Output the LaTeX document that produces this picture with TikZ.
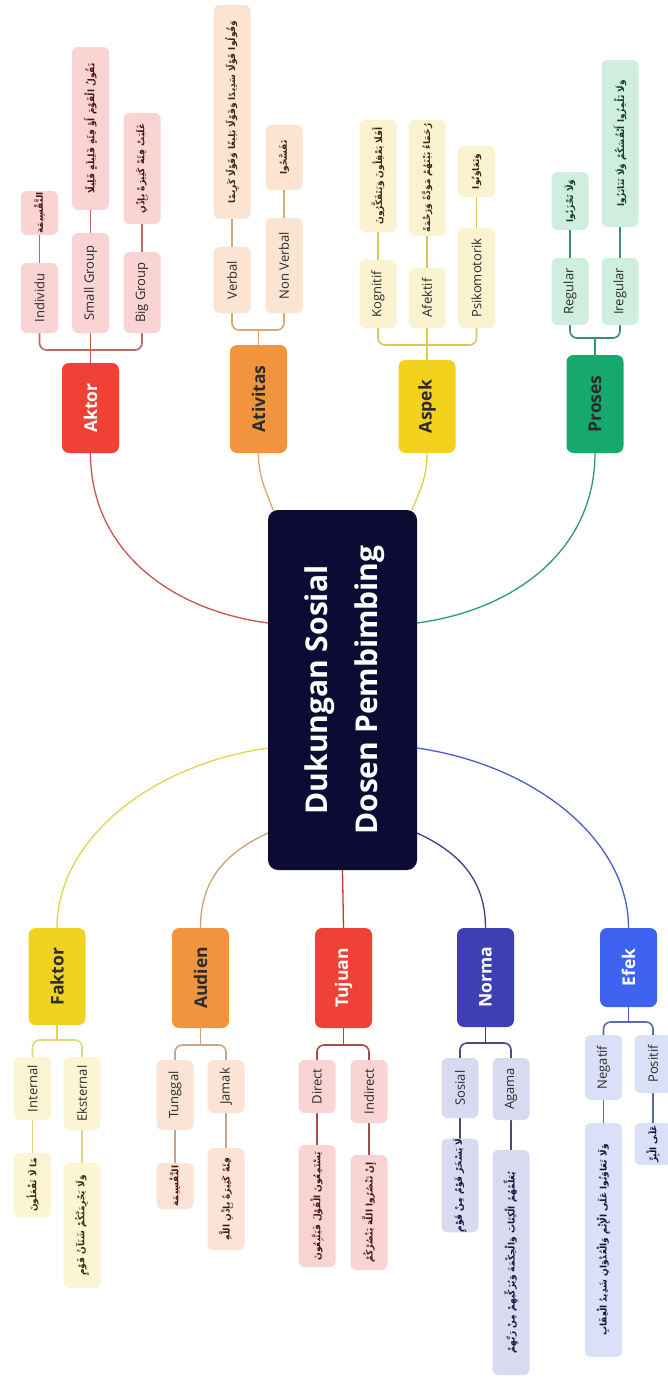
\documentclass[tikz,border=0pt]{standalone}
\usepackage{fontspec}
\usepackage{graphicx}
\setmainfont{Open Sans}
\newfontfamily\arabicfont[Script=Arabic]{DejaVu Sans}
\TeXXeTstate=1
\newcommand\rottxt[1]{\rotatebox{90}{#1}}
\newcommand\rotar[1]{\rotatebox{90}{\arabicfont\bfseries\beginR #1\endR}}
\definecolor{rootc}{HTML}{0B0B33}
\definecolor{aktorc}{HTML}{EF4136}
\definecolor{ativc}{HTML}{F0953E}
\definecolor{aspekc}{HTML}{F2D21C}
\definecolor{prosesc}{HTML}{16A86C}
\definecolor{faktorc}{HTML}{F0D320}
\definecolor{audienc}{HTML}{F0953E}
\definecolor{tujuanc}{HTML}{EF4136}
\definecolor{normac}{HTML}{3E3FB3}
\definecolor{efekc}{HTML}{3D63F0}
\definecolor{aksub}{HTML}{F9D4D2}
\definecolor{atsub}{HTML}{FBE4D2}
\definecolor{assub}{HTML}{FBF3CF}
\definecolor{prsub}{HTML}{CFEEE0}
\definecolor{fasub}{HTML}{FBF5D3}
\definecolor{ausub}{HTML}{FBE4D6}
\definecolor{tusub}{HTML}{F9D4D2}
\definecolor{nosub}{HTML}{D9D9F0}
\definecolor{efsub}{HTML}{D9E0F8}
\definecolor{akline}{HTML}{C85550}
\definecolor{atline}{HTML}{E0A66A}
\definecolor{asline}{HTML}{E6CC45}
\definecolor{prline}{HTML}{2A9C70}
\definecolor{faline}{HTML}{E3D547}
\definecolor{auline}{HTML}{C9A275}
\definecolor{tuline}{HTML}{BE3F3A}
\definecolor{noline}{HTML}{3C3C8E}
\definecolor{efline}{HTML}{4C5EC8}
\definecolor{akbrk}{HTML}{B86A68}
\definecolor{atbrk}{HTML}{D9A77A}
\definecolor{asbrk}{HTML}{DCC75A}
\definecolor{prbrk}{HTML}{3A8C72}
\definecolor{fabrk}{HTML}{E0D67A}
\definecolor{aubrk}{HTML}{C9A58A}
\definecolor{tubrk}{HTML}{A94B48}
\definecolor{nobrk}{HTML}{4B4B82}
\definecolor{efbrk}{HTML}{5B6AA8}
\definecolor{txtc}{HTML}{2B2B2B}
\definecolor{redar}{HTML}{4A1414}
\definecolor{brar}{HTML}{3A2810}
\definecolor{grar}{HTML}{143A2A}
\definecolor{blar}{HTML}{14143A}
\pgfdeclarelayer{bg}
\pgfsetlayers{bg,main}
\tikzset{
  base/.style={draw=none, inner sep=0pt, outer sep=0pt},
  rootbox/.style={base, fill=rootc, rounded corners=10pt, minimum width=149pt, minimum height=360pt, text=white, font=\fontsize{30}{50}\selectfont\bfseries},
  mainbox/.style={base, rounded corners=7pt, minimum width=57pt, font=\fontsize{17.5}{20}\selectfont\bfseries},
  subbox/.style={base, rounded corners=6pt, minimum width=37pt, text=txtc, font=\fontsize{13}{15}\selectfont},
  arbox/.style={subbox, font=\fontsize{9}{12}\selectfont},
  curve/.style={line width=1.3pt},
  brk/.style={line width=1.6pt, rounded corners=7pt},
  lnk/.style={line width=1.5pt}
}
\begin{document}
\begin{tikzpicture}[x=1pt,y=-1pt]
\useasboundingbox (0,0) rectangle (667,1380);

% root
\node[rootbox] (root) at (342.5,690) {\rotatebox{90}{\begin{tabular}{@{}c@{}}Dukungan Sosial\\Dosen Pembimbing\end{tabular}}};

% main nodes (top)
\node[mainbox, fill=aktorc, text=white, minimum height=90pt] (aktor) at (90.5,408) {\rottxt{Aktor}};
\node[mainbox, fill=ativc, text=txtc, minimum height=108pt] (ativ) at (258.5,399) {\rottxt{Ativitas}};
\node[mainbox, fill=aspekc, text=txtc, minimum height=93pt] (aspek) at (427,406.5) {\rottxt{Aspek}};
\node[mainbox, fill=prosesc, text=txtc, minimum height=98pt] (proses) at (595,404) {\rottxt{Proses}};
% main nodes (bottom)
\node[mainbox, fill=faktorc, text=txtc, minimum height=97pt] (faktor) at (57,976.5) {\rottxt{Faktor}};
\node[mainbox, fill=audienc, text=txtc, minimum height=100pt] (audien) at (200.5,978) {\rottxt{Audien}};
\node[mainbox, fill=tujuanc, text=white, minimum height=100pt] (tujuan) at (343.5,978) {\rottxt{Tujuan}};
\node[mainbox, fill=normac, text=white, minimum height=99pt] (norma) at (485.5,977.5) {\rottxt{Norma}};
\node[mainbox, fill=efekc, text=white, minimum height=79pt] (efek) at (628.5,967.5) {\rottxt{Efek}};

% Aktor subnodes
\node[subbox, fill=aksub, minimum height=70pt] (ind) at (39.5,298) {\rottxt{Individu}};
\node[subbox, fill=aksub, minimum height=100pt] (small) at (90.5,283) {\rottxt{Small Group}};
\node[subbox, fill=aksub, minimum height=81pt] (big) at (142,292.5) {\rottxt{Big Group}};
\node[arbox, fill=aksub, text=redar, minimum height=44pt] (indc) at (39.5,213) {\rotar{التَّقْسِيمَة}};
\node[arbox, fill=aksub, text=redar, minimum height=163pt] (smallc) at (90.5,128.5) {\rotar{نَقُولُ الْقَوْمَ أَوْ فِئَةٍ قَلِيلَةٍ قَلِيلًا}};
\node[arbox, fill=aksub, text=redar, minimum height=111pt] (bigc) at (142,168.5) {\rotar{غَلَبَتْ فِئَةً كَثِيرَةً بِإِذْنِ}};

% Ativitas subnodes
\node[subbox, fill=atsub, minimum height=66pt] (verbal) at (232,280) {\rottxt{Verbal}};
\node[subbox, fill=atsub, minimum height=95pt] (nonverbal) at (284,265.5) {\rottxt{Non Verbal}};
\node[arbox, fill=atsub, text=brar, minimum height=214pt] (verbalc) at (232,112) {\rotar{وَقُولُوا قَوْلًا سَدِيدًا وَقَوْلًا بَلِيغًا وَقَوْلًا كَرِيمًا}};
\node[arbox, fill=atsub, text=brar, minimum height=65pt] (nonverbalc) at (284,157.5) {\rotar{تَفَسَّحُوا}};

% Aspek subnodes
\node[subbox, fill=assub, minimum height=68pt] (kog) at (378,294) {\rottxt{Kognitif}};
\node[subbox, fill=assub, minimum height=60pt] (afek) at (427,298) {\rottxt{Afektif}};
\node[subbox, fill=assub, minimum height=100pt] (psiko) at (476.5,278) {\rottxt{Psikomotorik}};
\node[arbox, fill=assub, text=brar, minimum height=112pt] (kogc) at (378,176) {\rotar{أَفَلَا يَعْقِلُونَ وَيَتَفَكَّرُونَ}};
\node[arbox, fill=assub, text=brar, minimum height=116pt] (afekc) at (427,178) {\rotar{رُحَمَاءُ بَيْنَهُمْ مَوَدَّةً وَرَحْمَةً}};
\node[arbox, fill=assub, text=brar, minimum height=51pt] (psikoc) at (476.5,171.5) {\rotar{وَتَعَاوَنُوا}};

% Proses subnodes
\node[subbox, fill=prsub, minimum height=67pt] (regular) at (570,291.5) {\rottxt{Regular}};
\node[subbox, fill=prsub, minimum height=67pt] (iregular) at (620,291.5) {\rottxt{Iregular}};
\node[arbox, fill=prsub, text=grar, minimum height=58pt] (regularc) at (570,201) {\rotar{وَلَا تَحْزَنُوا}};
\node[arbox, fill=prsub, text=grar, minimum height=167pt] (iregularc) at (620,143.5) {\rotar{وَلَا تَلْمِزُوا أَنْفُسَكُمْ وَلَا تَنَابَزُوا}};

% Faktor subnodes
\node[subbox, fill=fasub, minimum height=63pt] (internal) at (32.5,1088.5) {\rottxt{Internal}};
\node[subbox, fill=fasub, minimum height=73pt] (eksternal) at (82,1093.5) {\rottxt{Eksternal}};
\node[arbox, fill=fasub, text=brar, minimum height=64pt] (internalc) at (32.5,1185) {\rotar{مَا لَا تَفْعَلُونَ}};
\node[arbox, fill=fasub, text=brar, minimum height=125pt] (eksternalc) at (82,1225.5) {\rotar{وَلَا يَجْرِمَنَّكُمْ شَنَآنُ قَوْمٍ}};

% Audien subnodes
\node[subbox, fill=ausub, minimum height=70pt] (tunggal) at (175,1095) {\rottxt{Tunggal}};
\node[subbox, fill=ausub, minimum height=53pt] (jamak) at (226,1086.5) {\rottxt{Jamak}};
\node[arbox, fill=ausub, text=redar, minimum height=46pt] (tunggalc) at (175,1186) {\rotar{التَّقْسِيمَة}};
\node[arbox, fill=ausub, text=redar, minimum height=102pt] (jamakc) at (226,1199) {\rotar{فِئَةً كَثِيرَةً بِإِذْنِ اللَّهِ}};

% Tujuan subnodes
\node[subbox, fill=tusub, minimum height=53pt] (direct) at (317,1086.5) {\rottxt{Direct}};
\node[subbox, fill=tusub, minimum height=63pt] (indirect) at (369,1091.5) {\rottxt{Indirect}};
\node[arbox, fill=tusub, text=redar, minimum height=122pt] (directc) at (317,1206) {\rotar{يَسْتَمِعُونَ الْقَوْلَ فَيَتَّبِعُونَ}};
\node[arbox, fill=tusub, text=redar, minimum height=115pt] (indirectc) at (369,1212.5) {\rotar{إِنْ تَنْصُرُوا اللَّهَ يَنْصُرْكُمْ}};

% Norma subnodes
\node[subbox, fill=nosub, minimum height=60pt] (sosial) at (460,1088) {\rottxt{Sosial}};
\node[subbox, fill=nosub, minimum height=62pt] (agama) at (511,1089) {\rottxt{Agama}};
\node[arbox, fill=nosub, text=blar, minimum height=85pt] (sosialc) at (460,1185.5) {\rotar{لَا يَسْخَرْ قَوْمٌ مِنْ قَوْمٍ}};
\node[arbox, fill=nosub, text=blar, minimum height=225pt] (agamac) at (511,1262.5) {\rotar{يُعَلِّمُهُمُ الْكِتَابَ وَالْحِكْمَةَ وَيُزَكِّيهِمْ مِنْ رَبِّهِمْ}};

% Efek subnodes
\node[subbox, fill=efsub, minimum height=65pt] (negatif) at (603.5,1067.5) {\rottxt{Negatif}};
\node[subbox, fill=efsub, minimum height=58pt] (positif) at (653,1064) {\rottxt{Positif}};
\node[arbox, fill=efsub, text=blar, minimum height=234pt] (negatifc) at (603.5,1240) {\rotar{وَلَا تَعَاوَنُوا عَلَى الْإِثْمِ وَالْعُدْوَانِ شَدِيدُ الْعِقَابِ}};
\node[arbox, fill=efsub, text=blar, minimum height=42pt] (positifc) at (653,1144) {\rotar{عَلَى الْبِرِّ}};

% bracket coordinates
\coordinate (akb) at (90.5,350);
\coordinate (atb) at (258.5,330);
\coordinate (asb) at (427,345);
\coordinate (prb) at (595,338);
\coordinate (fab) at (57,1040);
\coordinate (aub) at (200.5,1045);
\coordinate (tub) at (343.5,1045);
\coordinate (nob) at (485.5,1043);
\coordinate (efb) at (628.5,1022);

\begin{pgfonlayer}{bg}
\fill[white] (0,0) rectangle (667,1380);
% root to main
\draw[curve, akline] ([yshift=67pt]root.west) .. controls (170,610) and (90.5,550) .. (aktor.south);
\draw[curve, atline] ([xshift=5pt]root.north west) .. controls (266,490) and (258.5,478) .. (ativ.south);
\draw[curve, asline] ([xshift=-5pt]root.north east) .. controls (420,490) and (427,478) .. (aspek.south);
\draw[curve, prline] ([yshift=67pt]root.east) .. controls (515,610) and (595,550) .. (proses.south);
\draw[curve, faline] ([yshift=-58pt]root.west) .. controls (150,765) and (57,840) .. (faktor.north);
\draw[curve, auline] ([yshift=-143pt]root.west) .. controls (220,855) and (200.5,885) .. (audien.north);
\draw[curve, tuline] (root.south) -- (tujuan.north);
\draw[curve, noline] ([yshift=-143pt]root.east) .. controls (465,855) and (485.5,885) .. (norma.north);
\draw[curve, efline] ([yshift=-58pt]root.east) .. controls (535,765) and (628.5,840) .. (efek.north);

% Aktor
\draw[brk, akbrk] (ind.south) |- (akb) -| (big.south);
\draw[lnk, akline] (aktor.north) -- (small.south);
\draw[lnk, akbrk] (ind.north) -- (indc.south);
\draw[lnk, akbrk] (small.north) -- (smallc.south);
\draw[lnk, akbrk] (big.north) -- (bigc.south);
% Ativitas
\draw[brk, atbrk] (verbal.south) |- (atb) -| (nonverbal.south);
\draw[lnk, atline] (ativ.north) -- (atb);
\draw[lnk, atbrk] (verbal.north) -- (verbalc.south);
\draw[lnk, atbrk] (nonverbal.north) -- (nonverbalc.south);
% Aspek
\draw[brk, asbrk] (kog.south) |- (asb) -| (psiko.south);
\draw[lnk, asline] (aspek.north) -- (afek.south);
\draw[lnk, asbrk] (kog.north) -- (kogc.south);
\draw[lnk, asbrk] (afek.north) -- (afekc.south);
\draw[lnk, asbrk] (psiko.north) -- (psikoc.south);
% Proses
\draw[brk, prbrk] (regular.south) |- (prb) -| (iregular.south);
\draw[lnk, prline] (proses.north) -- (prb);
\draw[lnk, prbrk] (regular.north) -- (regularc.south);
\draw[lnk, prbrk] (iregular.north) -- (iregularc.south);
% Faktor
\draw[brk, fabrk] (internal.north) |- (fab) -| (eksternal.north);
\draw[lnk, faline] (faktor.south) -- (fab);
\draw[lnk, fabrk] (internal.south) -- (internalc.north);
\draw[lnk, fabrk] (eksternal.south) -- (eksternalc.north);
% Audien
\draw[brk, aubrk] (tunggal.north) |- (aub) -| (jamak.north);
\draw[lnk, auline] (audien.south) -- (aub);
\draw[lnk, aubrk] (tunggal.south) -- (tunggalc.north);
\draw[lnk, aubrk] (jamak.south) -- (jamakc.north);
% Tujuan
\draw[brk, tubrk] (direct.north) |- (tub) -| (indirect.north);
\draw[lnk, tuline] (tujuan.south) -- (tub);
\draw[lnk, tubrk] (direct.south) -- (directc.north);
\draw[lnk, tubrk] (indirect.south) -- (indirectc.north);
% Norma
\draw[brk, nobrk] (sosial.north) |- (nob) -| (agama.north);
\draw[lnk, noline] (norma.south) -- (nob);
\draw[lnk, nobrk] (sosial.south) -- (sosialc.north);
\draw[lnk, nobrk] (agama.south) -- (agamac.north);
% Efek
\draw[brk, efbrk] (negatif.north) |- (efb) -| (positif.north);
\draw[lnk, efline] (efek.south) -- (efb);
\draw[lnk, efbrk] (negatif.south) -- (negatifc.north);
\draw[lnk, efbrk] (positif.south) -- (positifc.north);
\end{pgfonlayer}
\end{tikzpicture}
\end{document}
